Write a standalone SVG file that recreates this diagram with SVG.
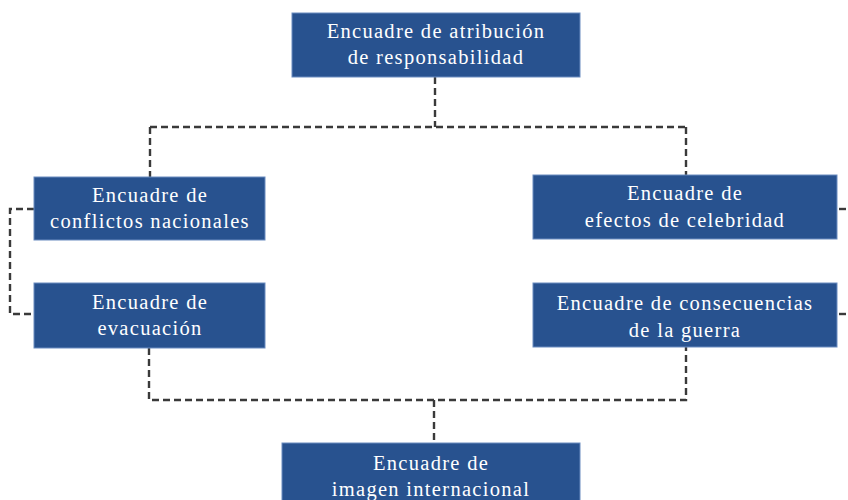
<svg xmlns="http://www.w3.org/2000/svg" width="848" height="500" viewBox="0 0 848 500">
<style>
.box{fill:#28528f;stroke:#6a8cc0;stroke-width:1}
.t{fill:#ffffff;font-family:"Liberation Serif","Times New Roman",serif;font-size:20.5px;letter-spacing:1.3px;text-anchor:middle}
.c{fill:none;stroke:#3a3a3a;stroke-width:2.4;stroke-dasharray:7 4}
</style>
<rect width="848" height="500" fill="#ffffff"/>
<g id="connectors">
<path class="c" d="M435,77 V127"/>
<path class="c" d="M150,127 H686"/>
<path class="c" d="M150,127 V177"/>
<path class="c" d="M686,127 V175"/>
<path class="c" d="M34,209 H10 V314 H34"/>
<path class="c" d="M839,209 H848"/>
<path class="c" d="M839,314 H848"/>
<path class="c" d="M149,348 V400 H686 V347"/>
<path class="c" d="M434,400 V443"/>
</g>
<g id="n-atribucion">
<rect class="box" x="292" y="13" width="288" height="64"/>
<text class="t" x="436" y="38">Encuadre de atribución</text>
<text class="t" x="436" y="64">de responsabilidad</text>
</g>
<g id="n-conflictos">
<rect class="box" x="34" y="177" width="231" height="63"/>
<text class="t" x="150" y="202">Encuadre de</text>
<text class="t" x="150" y="228">conflictos nacionales</text>
</g>
<g id="n-evacuacion">
<rect class="box" x="34" y="283" width="231" height="65"/>
<text class="t" x="150" y="309">Encuadre de</text>
<text class="t" x="150" y="335">evacuación</text>
</g>
<g id="n-celebridad">
<rect class="box" x="533" y="175" width="304" height="64"/>
<text class="t" x="685" y="200">Encuadre de</text>
<text class="t" x="685" y="227">efectos de celebridad</text>
</g>
<g id="n-consecuencias">
<rect class="box" x="533" y="283" width="304" height="64"/>
<text class="t" x="685" y="310">Encuadre de consecuencias</text>
<text class="t" x="685" y="337">de la guerra</text>
</g>
<g id="n-imagen">
<rect class="box" x="282" y="443" width="298" height="70"/>
<text class="t" x="431" y="470">Encuadre de</text>
<text class="t" x="431" y="496">imagen internacional</text>
</g>
</svg>
